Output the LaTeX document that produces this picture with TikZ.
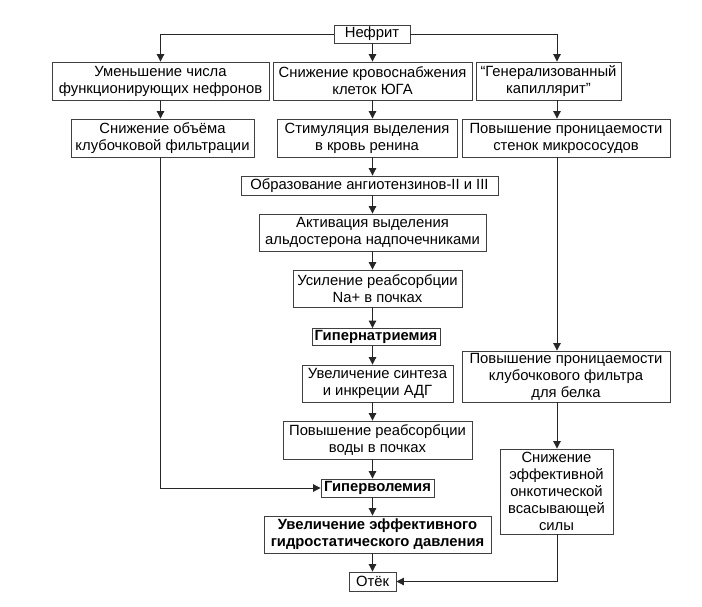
\documentclass[tikz,border=0pt]{standalone}
\usepackage{fontspec}
\setmainfont{Liberation Sans}
\usetikzlibrary{arrows.meta}
\begin{document}
\begin{tikzpicture}[x=1pt,y=-1pt,
  box/.style={draw=black!75, line width=0.9pt, fill=white, inner sep=0pt, align=center,
    font=\fontsize{14.8}{17}\selectfont},
  bbox/.style={box, font=\fontsize{14.8}{17}\selectfont\bfseries},
  arr/.style={draw=black!85, line width=1pt, -{Triangle[length=7.5pt,width=7.5pt]}},
  ln/.style={draw=black!80, line width=0.9pt}]
\useasboundingbox (0,0) rectangle (702,606);
\def\bx#1#2#3#4#5#6{\node[#2, minimum width=#5pt, minimum height=#6pt] (#1) at (#3,#4)}
\bx{nefrit}{box}{372}{34}{76}{18}{Нефрит};
\bx{b1}{box}{160.5}{81}{217}{38}{Уменьшение числа\\функционирующих нефронов};
\bx{b2}{box}{372.5}{81}{199}{38}{Снижение кровоснабжения\\клеток ЮГА};
\bx{b3}{box}{548.5}{81}{145}{38}{“Генерализованный\\капиллярит”};
\bx{b4}{box}{162.5}{138}{183}{38}{Снижение объёма\\клубочковой фильтрации};
\bx{b5}{box}{367}{138}{180}{38}{Стимуляция выделения\\в кровь ренина};
\bx{b6}{box}{566}{138}{208}{38}{Повышение проницаемости\\стенок микрососудов};
\bx{b7}{box}{369.5}{185.5}{257}{19}{Образование ангиотензинов-II и III};
\bx{b8}{box}{372.5}{232.5}{227}{37}{Активация выделения\\альдостерона надпочечниками};
\bx{b9}{box}{377.5}{288.5}{169}{37}{Усиление реабсорбции\\Na+ в почках};
\bx{b10}{bbox}{376}{337}{128}{17}{Гипернатриемия};
\bx{b11}{box}{377.5}{383.5}{151}{37}{Увеличение синтеза\\и инкреции АДГ};
\bx{b12}{box}{377.5}{440}{189}{38}{Повышение реабсорбции\\воды в почках};
\bx{b13}{bbox}{377.5}{488}{113}{18}{Гиперволемия};
\bx{b14}{bbox}{377.5}{534.5}{227}{37}{Увеличение эффективного\\гидростатического давления};
\bx{b15}{box}{372.5}{581.5}{47}{19}{Отёк};
\bx{b16}{box}{566}{376.5}{208}{51}{Повышение проницаемости\\клубочкового фильтра\\для белка};
\bx{b17}{box}{556.5}{491.5}{113}{85}{Снижение\\эффективной\\онкотической\\всасывающей\\силы};
\coordinate (ax) at (372.5,0);
\coordinate (lx) at (160.5,0);
\coordinate (rx) at (557,0);
% left branch
\draw[arr] (nefrit.west) -| (lx |- b1.north);
\draw[arr] (lx |- b1.south) -- (lx |- b4.north);
\draw[arr] (lx |- b4.south) |- (b13.west);
% central chain
\draw[arr] (ax |- nefrit.south) -- (ax |- b2.north);
\draw[arr] (ax |- b2.south) -- (ax |- b5.north);
\draw[arr] (ax |- b5.south) -- (ax |- b7.north);
\draw[arr] (ax |- b7.south) -- (ax |- b8.north);
\draw[arr] (ax |- b8.south) -- (ax |- b9.north);
\draw[arr] (ax |- b9.south) -- (ax |- b10.north);
\draw[arr] (ax |- b10.south) -- (ax |- b11.north);
\draw[arr] (ax |- b11.south) -- (ax |- b12.north);
\draw[arr] (ax |- b12.south) -- (ax |- b13.north);
\draw[arr] (ax |- b13.south) -- (ax |- b14.north);
\draw[arr] (ax |- b14.south) -- (ax |- b15.north);
% right branch
\draw[arr] (nefrit.east) -| (rx |- b3.north);
\draw[arr] (rx |- b3.south) -- (rx |- b6.north);
\draw[arr] (rx |- b6.south) -- (rx |- b16.north);
\draw[arr] (rx |- b16.south) -- (rx |- b17.north);
\draw[arr] (rx |- b17.south) |- (b15.east);
\end{tikzpicture}
\end{document}
